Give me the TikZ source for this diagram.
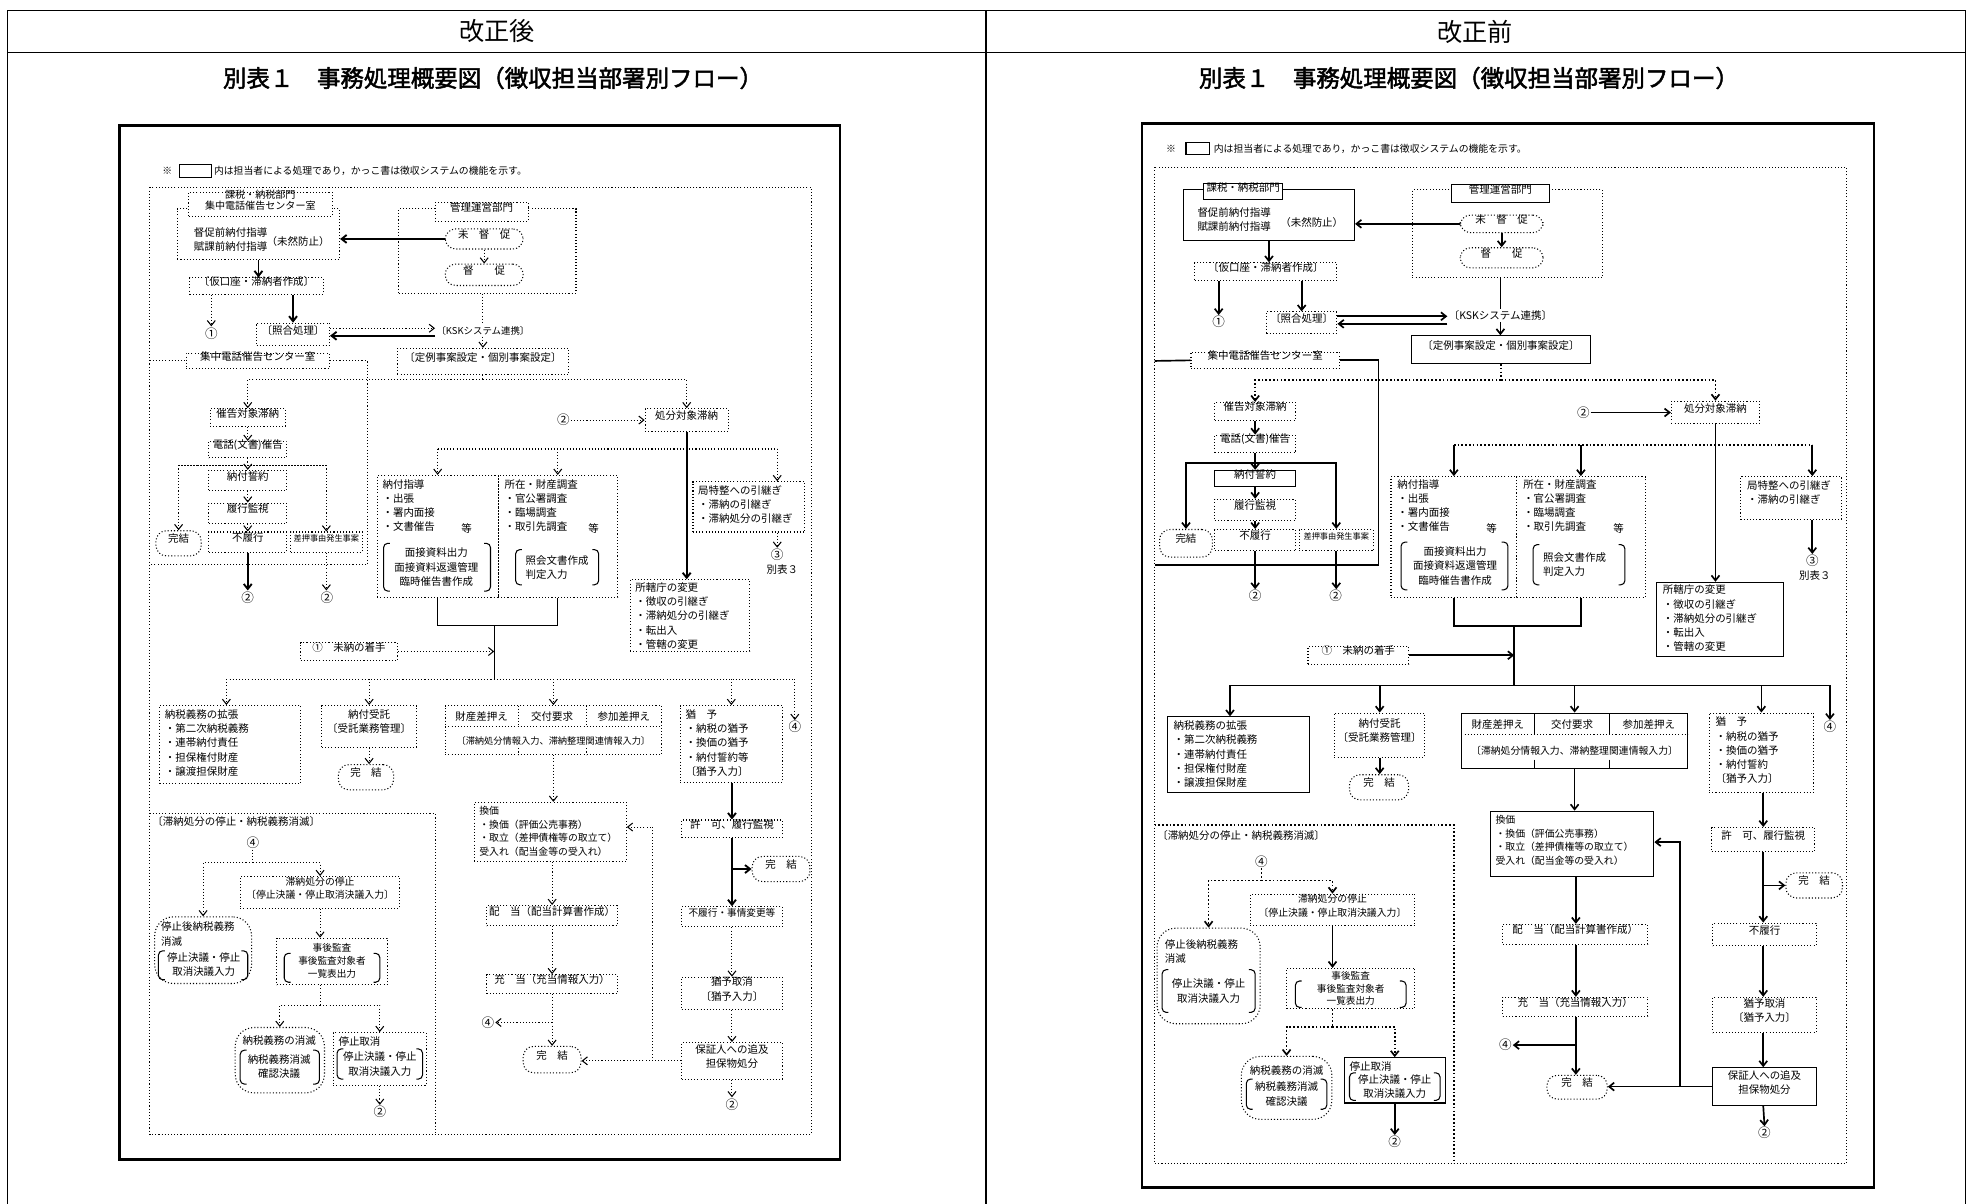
\documentclass[tikz,border=0pt]{standalone}
\usepackage{fontspec}
\setmainfont[AutoFakeBold=2]{Noto Sans CJK JP}
\usetikzlibrary{arrows.meta,fit,calc}
\newcommand\ctx{\fontsize{5}{6.8}\selectfont}
\newcommand\csm{\fontsize{4.6}{6.2}\selectfont}
\newcommand\cks{\fontsize{4.7}{6.5}\selectfont}
\newcommand\cjs{\fontsize{4.6}{6}\selectfont}
\newcommand\cxs{\fontsize{3.9}{5}\selectfont}
\newcommand\ccn{\fontsize{6}{6}\selectfont}
\newcommand\cnt{\fontsize{4.7}{5}\selectfont}
\newcommand\B[7][]{\node[bx,#1,fit={(#3,#4) (#5,#6)}] (#2) {#7};}
\newcommand\Brk[4]{%
 \draw[lnk,rounded corners=2pt] (#1+5,#2) -- (#1,#2) -- (#1,#4) -- (#1+5,#4);
 \draw[lnk,rounded corners=2pt] (#3-5,#2) -- (#3,#2) -- (#3,#4) -- (#3-5,#4);}
\begin{document}
\begin{tikzpicture}[x=0.6pt,y=-0.6pt,
 bx/.style={draw, line width=0.5pt, inner sep=0pt, align=center, font=\ctx},
 dl/.style={densely dotted},
 rbx/.style={rounded corners=5pt},
 lnk/.style={line width=0.5pt},
 hv/.style={line width=0.9pt},
 rln/.style={line width=0.8pt},
 arr/.style={lnk, -{Straight Barb[length=2.4pt,width=3.8pt]}},
 rar/.style={arr, line width=0.8pt},
 lt/.style={font=\ctx, inner sep=0.5pt, anchor=north west, align=left},
 lb/.style={font=\ctx, inner sep=0.5pt, align=center},
 cn/.style={font=\ccn, inner sep=0.3pt},
 frm/.style={line width=1.3pt}]
\useasboundingbox (0,0) rectangle (1568,957);
% ---------- table ----------
\draw[lnk] (6,960) -- (6,8) -- (1563,8) -- (1563,960);
\draw[lnk] (784,8) -- (784,960);
\draw[lnk] (6,42) -- (1563,42);
\node[font=\fontsize{12}{12}\selectfont] (hA) at (395,25) {改正後};
\node[font=\fontsize{12}{12}\selectfont] (hB) at (1173,25) {改正前};
\node[font=\fontsize{11.2}{12}\selectfont\bfseries] (tA) at (392,62) {別表１　事務処理概要図（徴収担当部署別フロー）};
\node[font=\fontsize{11.2}{12}\selectfont\bfseries] (tB) at (1168,62) {別表１　事務処理概要図（徴収担当部署別フロー）};

% ================= LEFT (改正後) =================
\draw[frm] (95,100) rectangle (668,922);
\node[lb,font=\cnt,anchor=west] (L-nm) at (128,136) {※};
\B{L-nb}{143}{131}{168}{141}{}
\node[lb,font=\cnt,anchor=west] (L-nt) at (169,136) {内は担当者による処理であり，かっこ書は徴収システムの機能を示す。};
\draw[lnk,dl] (119,149) rectangle (645,902);
\B[dl]{L-KN}{141}{166}{270}{206}{}
\B[dl,fill=white,font=\fontsize{4.8}{5.6}\selectfont]{L-KNh}{150}{153}{264}{172}{課税・納税部門\\集中電話催告センター室}
\node[lt] (L-KNt) at (153,180) {督促前納付指導\\賦課前納付指導};
\node[lb] (L-KNm) at (237,192) {（未然防止）};
\B[dl]{L-KA}{151}{221}{257}{234}{〔仮口座・滞納者作成〕}
\draw[arr,hv] (L-KN.south) -- (L-KN.south |- L-KA.north);
\node[cn] (L-C1) at (168,265) {①};
\draw[arr,dl] (L-C1 |- L-KA.south) -- (L-C1.north);
\B[dl]{L-SH}{204}{257}{262}{275}{〔照合処理〕}
\draw[arr,hv] (L-SH.north |- L-KA.south) -- (L-SH.north);
\node[lb,font=\fontsize{4.5}{5}\selectfont] (L-KSK) at (384,263) {〔KSKシステム連携〕};
\coordinate (L-u1) at ($(L-SH.east)+(0,-5)$);
\coordinate (L-u2) at ($(L-SH.east)+(0,1)$);
\draw[arr,dl] (L-u1) -- (L-u1 -| L-KSK.west);
\draw[arr,hv] (L-u2 -| L-KSK.west) -- (L-u2);
\B[dl]{L-KK}{317}{166}{458}{233}{}
\B[dl,fill=white]{L-KKh}{346}{161}{420}{176}{管理運営部門}
\B[rbx,dl]{L-MT}{354}{182}{416}{198}{未　督　促}
\B[rbx,dl]{L-TS}{354}{210}{416}{227}{督　　促}
\draw[arr,hv] (L-MT.west) -- (L-MT.west -| L-KN.east);
\draw[arr,dl] (L-MT.south) -- (L-TS.north);
\draw[lnk,dl] (L-KSK.north |- L-KK.south) -- (L-KSK.north);
\B[dl]{L-TR}{316}{277}{452}{298}{〔定例事案設定・個別事案設定〕}
\draw[arr,dl] (L-KSK.south) -- (L-KSK.south |- L-TR.north);
\coordinate (L-h1) at (384,302);
\draw[lnk,dl] (L-TR.south) -- (L-TR.south |- L-h1);
\B[dl]{L-SK}{167}{325}{227}{339}{催告対象滞納}
\B[dl]{L-ST}{513}{325}{579}{343}{処分対象滞納}
\draw[arr,dl] (L-TR.south |- L-h1) -| (L-SK.north);
\draw[arr,dl] (L-TR.south |- L-h1) -| (L-ST.north);
\node[cn] (L-C2c) at (448,334) {②};
\draw[arr,dl] (L-C2c.east) -- (L-C2c.east -| L-ST.west);
\B[dl,fill=white]{L-SCh}{148}{281}{262}{293}{集中電話催告センター室}
\draw[lnk,dl] (119,287) -- (L-SCh.west);
\draw[lnk,dl] (L-SCh.east) -| (292,449) -- (119,449);
\B[dl]{L-DK}{166}{351}{228}{364}{電話(文書)催告}
\draw[arr,dl] (L-SK.south) -- (L-DK.north);
\B[dl]{L-NS}{166}{374}{228}{390}{納付誓約}
\B[dl]{L-RK}{166}{400}{228}{416}{履行監視}
\B[dl]{L-FR}{166}{423}{228}{439}{不履行}
\B[rbx,dl]{L-KT}{124}{422}{160}{442}{完結}
\B[dl,font=\cxs]{L-SO}{231}{423}{288}{439}{差押事由発生事案}
\draw[arr,dl] (L-DK.south) -- (L-NS.north);
\draw[arr,dl] (L-NS.south) -- (L-RK.north);
\draw[arr,dl] (L-RK.south) -- (L-FR.north);
\coordinate (L-ut) at (200,370);
\draw[arr,dl] (L-SO.north |- L-ut) -- (L-KT.north |- L-ut) -- (L-KT.north);
\draw[arr,dl] (L-KT.north |- L-ut) -- (L-SO.north |- L-ut) -- (L-SO.north);
\node[cn] (L-C2a) at (197,475) {②};
\node[cn] (L-C2b) at (260,475) {②};
\draw[arr,hv] (L-FR.south) -- (L-FR.south |- L-C2a.north);
\draw[arr,dl] (L-SO.south) -- (L-SO.south |- L-C2b.north);
% middle
\B[dl]{L-NG}{300}{378}{396}{475}{}
\B[dl]{L-ZC}{396}{378}{491}{475}{}
\node[lt] (L-NGt) at (303,380) {納付指導\\・出張\\・署内面接\\・文書催告};
\node[lb] (L-NGe) at (371,420) {等};
\Brk{305}{432}{390}{470}
\node[lb] (L-NGb) at (347,451) {面接資料出力\\面接資料返還管理\\臨時催告書作成};
\node[lt] (L-ZCt) at (400,380) {所在・財産調査\\・官公署調査\\・臨場調査\\・取引先調査};
\node[lb] (L-ZCe) at (472,420) {等};
\Brk{410}{437}{476}{465}
\node[lb,align=left] (L-ZCb) at (443,451) {照会文書作成\\判定入力};
\B[dl]{L-KY}{551}{383}{640}{423}{}
\node[lt] (L-KYt) at (554,385) {局特整への引継ぎ\\・滞納の引継ぎ\\・滞納処分の引継ぎ};
\node[cn] (L-C3) at (618,441) {③};
\node[lb] (L-bh) at (622,453) {別表３};
\B[dl]{L-SY}{501}{461}{596}{518}{}
\node[lt] (L-SYt) at (504,462) {所轄庁の変更\\・徴収の引継ぎ\\・滞納処分の引継ぎ\\・転出入\\・管轄の変更};
\coordinate (L-h2) at (0,357);
\coordinate (L-kyx) at (618,0);
\draw[lnk,dl] (L-NG.north |- L-h2) -- (L-kyx |- L-h2);
\draw[arr,dl] (L-NG.north |- L-h2) -- (L-NG.north);
\draw[arr,dl] (L-ZC.north |- L-h2) -- (L-ZC.north);
\draw[arr,dl] (L-kyx |- L-h2) -- (L-kyx |- L-KY.north);
\draw[arr,dl] (L-kyx |- L-KY.south) -- (L-C3.north);
\draw[arr,hv] (L-ST.south) -- (L-ST.south |- L-SY.north);
\coordinate (L-j1) at (393,497);
\draw[lnk] (L-NG.south) |- (L-j1) -| (L-ZC.south);
\coordinate (L-h3) at (393,540);
\draw[lnk] (L-j1) -- (L-h3);
\B[dl]{L-MC}{239}{511}{316}{525}{①　未納の着手}
\draw[arr,dl] (L-MC.east) -- (L-MC.east -| L-j1);
% row
\B[dl]{L-GK}{127}{561}{239}{623}{}
\node[lt] (L-GKt) at (130,563) {納税義務の拡張\\・第二次納税義務\\・連帯納付責任\\・担保権付財産\\・譲渡担保財産};
\B[dl,align=left]{L-NJ}{256}{561}{331}{594}{納付受託\\〔受託業務管理〕}
\B[rbx,dl]{L-KT2}{269}{608}{313}{628}{完　結}
\draw[arr,dl] (L-NJ.south) -- (L-NJ.south |- L-KT2.north);
\B[dl]{L-ZS}{354}{561}{526}{600}{}
\draw[lnk,dl] (354,578) -- (526,578);
\draw[lnk,dl] (412,561) -- (412,578) (466,561) -- (466,578) (412,595) -- (412,600) (466,595) -- (466,600);
\node[lb] (L-zs1) at (383,570) {財産差押え};
\node[lb] (L-zs2) at (439,570) {交付要求};
\node[lb] (L-zs3) at (496,570) {参加差押え};
\node[lb,font=\fontsize{4.4}{5}\selectfont] (L-zs4) at (440,589) {〔滞納処分情報入力、滞納整理関連情報入力〕};
\B[dl]{L-YU}{541}{561}{622}{622}{}
\node[lt] (L-YUt) at (544,563) {猶　予\\・納税の猶予\\・換価の猶予\\・納付誓約等\\〔猶予入力〕};
\node[cn] (L-C4a) at (632,578) {④};
\coordinate (L-gkx) at (180,0);
\draw[lnk,dl] (L-gkx |- L-h3) -- (L-C4a |- L-h3);
\draw[arr,dl] (L-gkx |- L-h3) -- (L-gkx |- L-GK.north);
\draw[arr,dl] (L-NJ.north |- L-h3) -- (L-NJ.north);
\draw[arr,dl] (L-ZS.north |- L-h3) -- (L-ZS.north);
\draw[arr,dl] (L-YU.north |- L-h3) -- (L-YU.north);
\draw[arr,dl] (L-C4a |- L-h3) -- (L-C4a.north);
% lower middle
\B[dl]{L-KV}{377}{638}{498}{685}{}
\node[lt,font=\cks] (L-KVt) at (380,640) {換価\\・換価（評価公売事務）\\・取立（差押債権等の取立て）\\受入れ（配当金等の受入れ）};
\draw[arr,dl] (L-ZS.south) -- (L-ZS.south |- L-KV.north);
\B[dl]{L-HT}{387}{720}{491}{736}{配　当（配当計算書作成）}
\B[dl]{L-JT}{387}{775}{491}{790}{充　当（充当情報入力）}
\B[rbx,dl]{L-KT3}{416}{832}{462}{853}{完　結}
\coordinate (L-vx) at (439,0);
\draw[arr,dl] (L-vx |- L-KV.south) -- (L-vx |- L-HT.north);
\draw[arr,dl] (L-vx |- L-HT.south) -- (L-vx |- L-JT.north);
\draw[arr,dl] (L-vx |- L-JT.south) -- (L-vx |- L-KT3.north);
\node[cn] (L-C4b) at (388,813) {④};
\draw[arr,dl] (L-vx |- L-C4b) -- (L-C4b.east);
% right column
\B[dl]{L-KY2}{542}{652}{622}{666}{許　可、履行監視}
\B[rbx,dl]{L-KT4}{598}{681}{644}{701}{完　結}
\B[dl,font=\csm]{L-FH}{542}{721}{622}{737}{不履行・事情変更等}
\B[dl,align=left]{L-YT}{542}{777}{622}{803}{猶予取消\\〔猶予入力〕}
\B[dl]{L-HS}{542}{829}{622}{858}{保証人への追及\\担保物処分}
\node[cn] (L-C2d) at (582,878) {②};
\coordinate (L-yx) at (582,0);
\draw[arr,hv] (L-yx |- L-YU.south) -- (L-yx |- L-KY2.north);
\draw[arr,hv] (L-yx |- L-KY2.south) -- (L-yx |- L-FH.north);
\draw[arr,hv] (L-yx |- L-KT4.west) -- (L-KT4.west);
\draw[arr,dl] (L-yx |- L-FH.south) -- (L-yx |- L-YT.north);
\draw[arr,dl] (L-yx |- L-YT.south) -- (L-yx |- L-HS.north);
\draw[arr,dl] (L-yx |- L-HS.south) -- (L-C2d.north);
\draw[arr,dl] (L-HS.west) -- (L-HS.west -| L-KT3.east);
\coordinate (L-rb) at (519,0);
\coordinate (L-kv) at ($(L-KV.north east)+(0,20)$);
\draw[arr,dl] (L-rb |- L-HS.west) -- (L-rb |- L-kv) -- (L-kv);
% stop section
\draw[lnk,dl] (119,647) -- (346,647) -- (346,902);
\node[lb,anchor=west] (L-TT) at (120,653) {〔滞納処分の停止・納税義務消滅〕};
\node[cn] (L-C4c) at (201,670) {④};
\coordinate (L-s1) at (201,686);
\draw[lnk,dl] (L-C4c.south) -- (L-s1);
\B[dl,align=left,font=\cks]{L-TS2}{191}{697}{318}{722}{滞納処分の停止\\〔停止決議・停止取消決議入力〕}
\B[rbx,dl,rounded corners=9pt]{L-TO}{123}{729}{200}{782}{}
\draw[arr,dl] (L-s1) -| (L-TO.north);
\draw[arr,dl] (L-s1) -| (L-TS2.north);
\node[lt] (L-TOt) at (127,732) {停止後納税義務\\消滅};
\Brk{126}{756}{197}{779}
\node[lb] (L-TOb) at (162,767) {停止決議・停止\\取消決議入力};
\B[dl]{L-JK}{220}{746}{308}{783}{}
\node[lb,font=\cjs] (L-JKt) at (264,764) {事後監査\\事後監査対象者\\一覧表出力};
\Brk{226}{758}{302}{781}
\draw[arr,dl] (L-TS2.south) -- (L-TS2.south |- L-JK.north);
\coordinate (L-s2) at ($(L-TS2.south)+(0,77)$);
\draw[lnk,dl] (L-s2 |- L-JK.south) -- (L-s2);
\B[rbx,dl,rounded corners=9pt]{L-NS2}{187}{817}{258}{869}{}
\B[dl]{L-TK}{265}{821}{339}{863}{}
\draw[arr,dl] (L-s2) -| (L-NS2.north);
\draw[arr,dl] (L-s2) -| (L-TK.north);
\node[lb] (L-NS2t) at (222,827) {納税義務の消滅};
\Brk{191}{835}{254}{862}
\node[lb] (L-NS2b) at (222,848) {納税義務消滅\\確認決議};
\node[lt] (L-TKt) at (268,823) {停止取消};
\Brk{268}{834}{336}{858}
\node[lb] (L-TKb) at (302,846) {停止決議・停止\\取消決議入力};
\node[cn] (L-C2e) at (302,884) {②};
\draw[arr,dl] (L-TK.south) -- (L-C2e.north);

% ================= RIGHT (改正前) =================
\draw[frm] (908,98) rectangle (1490,944);
\node[lb,font=\cnt,anchor=west] (R-nm) at (926,118) {※};
\B{R-nb}{943}{113}{962}{123}{}
\node[lb,font=\cnt,anchor=west] (R-nt) at (964,118) {内は担当者による処理であり，かっこ書は徴収システムの機能を示す。};
\draw[lnk,dl] (918,133) rectangle (1468,925);
\B{R-KN}{941}{151}{1077}{191}{}
\B[fill=white]{R-KNh}{957}{146}{1020}{159}{課税・納税部門}
\node[lt] (R-KNt) at (951,164) {督促前納付指導\\賦課前納付指導};
\node[lb] (R-KNm) at (1043,177) {（未然防止）};
\B[dl]{R-KA}{950}{209}{1063}{223}{〔仮口座・滞納者作成〕}
\draw[rar] (R-KN.south) -- (R-KN.south |- R-KA.north);
\node[cn] (R-C1) at (969,256) {①};
\draw[rar] (R-C1 |- R-KA.south) -- (R-C1.north);
\B[dl]{R-SH}{1007}{248}{1063}{265}{〔照合処理〕}
\draw[rar] (R-SH.north |- R-KA.south) -- (R-SH.north);
\node[lb] (R-KSK) at (1193,251) {〔KSKシステム連携〕};
\coordinate (R-u1) at ($(R-SH.east)+(0,-5)$);
\coordinate (R-u2) at ($(R-SH.east)+(0,1)$);
\draw[rar] (R-u1) -- (R-u1 -| R-KSK.west);
\draw[rar] (R-u2 -| R-KSK.west) -- (R-u2);
\B[dl]{R-KK}{1123}{151}{1274}{221}{}
\B[fill=white]{R-KKh}{1154}{147}{1232}{161}{管理運営部門}
\B[rbx,dl]{R-MT}{1161}{171}{1227}{185}{未　督　促}
\B[rbx,dl]{R-TS}{1161}{197}{1227}{213}{督　　促}
\draw[rar] (R-MT.west) -- (R-MT.west -| R-KN.east);
\draw[rar] (R-MT.south) -- (R-TS.north);
\draw[rln] (R-KSK.north |- R-KK.south) -- (R-KSK.north);
\B{R-TR}{1122}{267}{1265}{289}{〔定例事案設定・個別事案設定〕}
\draw[rar] (R-KSK.south) -- (R-KSK.south |- R-TR.north);
\coordinate (R-h1) at (1193,302);
\draw[rln,dl] (R-TR.south) -- (R-TR.south |- R-h1);
\B[dl]{R-SK}{966}{320}{1030}{334}{催告対象滞納}
\B[dl]{R-ST}{1329}{319}{1399}{337}{処分対象滞納}
\draw[rar,dl] (R-TR.south |- R-h1) -| (R-SK.north);
\draw[rar,dl] (R-TR.south |- R-h1) -| (R-ST.north);
\node[cn] (R-C2c) at (1259,328) {②};
\draw[rar] (R-C2c.east) -- (R-C2c.east -| R-ST.west);
\B[dl,fill=white]{R-SCh}{947}{280}{1065}{293}{集中電話催告センター室}
\draw[rln] (918,287) -- (R-SCh.west);
\draw[rln] (R-SCh.east) -| (1096,449) -- (918,449);
\B[dl]{R-DK}{966}{346}{1030}{360}{電話(文書)催告}
\draw[rar] (R-SK.south) -- (R-DK.north);
\B{R-NS}{966}{374}{1030}{387}{納付誓約}
\B[dl]{R-RK}{966}{397}{1030}{414}{履行監視}
\B[dl]{R-FR}{966}{421}{1030}{438}{不履行}
\B[rbx,dl]{R-KT}{922}{421}{964}{443}{完結}
\B[dl,font=\cxs]{R-SO}{1033}{421}{1092}{438}{差押事由発生事案}
\draw[rar] (R-DK.south) -- (R-NS.north);
\draw[rar] (R-NS.south) -- (R-RK.north);
\draw[rar] (R-RK.south) -- (R-FR.north);
\coordinate (R-ut) at (1000,368);
\draw[rar] (R-SO.north |- R-ut) -- (R-KT.north |- R-ut) -- (R-KT.north);
\draw[rar] (R-KT.north |- R-ut) -- (R-SO.north |- R-ut) -- (R-SO.north);
\node[cn] (R-C2a) at (998,474) {②};
\node[cn] (R-C2b) at (1062,474) {②};
\draw[rar] (R-FR.south) -- (R-FR.south |- R-C2a.north);
\draw[rar] (R-SO.south) -- (R-SO.south |- R-C2b.north);
% middle
\B[dl]{R-NG}{1106}{379}{1206}{475}{}
\B[dl]{R-ZC}{1206}{379}{1308}{475}{}
\node[lt] (R-NGt) at (1110,380) {納付指導\\・出張\\・署内面接\\・文書催告};
\node[lb] (R-NGe) at (1186,420) {等};
\Brk{1114}{431}{1199}{469}
\node[lb] (R-NGb) at (1157,450) {面接資料出力\\面接資料返還管理\\臨時催告書作成};
\node[lt] (R-ZCt) at (1210,380) {所在・財産調査\\・官公署調査\\・臨場調査\\・取引先調査};
\node[lb] (R-ZCe) at (1287,420) {等};
\Brk{1219}{433}{1292}{465}
\node[lb,align=left] (R-ZCb) at (1252,449) {照会文書作成\\判定入力};
\B[dl]{R-KY}{1384}{379}{1464}{413}{}
\node[lt] (R-KYt) at (1388,381) {局特整への引継ぎ\\・滞納の引継ぎ};
\node[cn] (R-C3) at (1441,446) {③};
\node[lb] (R-bh) at (1443,458) {別表３};
\B{R-SY}{1317}{463}{1418}{522}{}
\node[lt] (R-SYt) at (1321,464) {所轄庁の変更\\・徴収の引継ぎ\\・滞納処分の引継ぎ\\・転出入\\・管轄の変更};
\coordinate (R-h2) at (0,354);
\coordinate (R-kyx) at (1441,0);
\draw[rln,dl] (R-NG.north |- R-h2) -- (R-kyx |- R-h2);
\draw[rar] (R-NG.north |- R-h2) -- (R-NG.north);
\draw[rar] (R-ZC.north |- R-h2) -- (R-ZC.north);
\draw[rar] (R-kyx |- R-h2) -- (R-kyx |- R-KY.north);
\draw[rar] (R-kyx |- R-KY.south) -- (R-C3.north);
\draw[rar] (R-ST.south) -- (R-ST.south |- R-SY.north);
\coordinate (R-j1) at (1204,498);
\draw[rln] (R-NG.south) |- (R-j1) -| (R-ZC.south);
\coordinate (R-h3) at (1204,545);
\draw[rln] (R-j1) -- (R-h3);
\B[dl]{R-MC}{1040}{514}{1120}{528}{①　未納の着手}
\draw[rar] (R-MC.east) -- (R-MC.east -| R-j1);
% row
\B{R-GK}{928}{570}{1041}{630}{}
\node[lt] (R-GKt) at (932,572) {納税義務の拡張\\・第二次納税義務\\・連帯納付責任\\・担保権付財産\\・譲渡担保財産};
\B[dl,align=left]{R-NJ}{1061}{567}{1133}{602}{納付受託\\〔受託業務管理〕}
\B[rbx,dl]{R-KT2}{1073}{616}{1120}{636}{完　結}
\draw[rar] (R-NJ.south) -- (R-NJ.south |- R-KT2.north);
\B{R-ZS}{1162}{567}{1342}{611}{}
\draw[lnk,dl] (1162,584) -- (1342,584);
\draw[lnk] (1220,567) -- (1220,584) (1280,567) -- (1280,584) (1220,604) -- (1220,611) (1280,604) -- (1280,611);
\node[lb] (R-zs1) at (1191,576) {財産差押え};
\node[lb] (R-zs2) at (1250,576) {交付要求};
\node[lb] (R-zs3) at (1311,576) {参加差押え};
\node[lb,font=\cks] (R-zs4) at (1252,597) {〔滞納処分情報入力、滞納整理関連情報入力〕};
\B[dl]{R-YU}{1359}{567}{1442}{630}{}
\node[lt] (R-YUt) at (1363,569) {猶　予\\・納税の猶予\\・換価の猶予\\・納付誓約\\〔猶予入力〕};
\node[cn] (R-C4a) at (1455,578) {④};
\coordinate (R-gkx) at (978,0);
\draw[rln] (R-gkx |- R-h3) -- (R-C4a |- R-h3);
\draw[rar] (R-gkx |- R-h3) -- (R-gkx |- R-GK.north);
\draw[rar] (R-NJ.north |- R-h3) -- (R-NJ.north);
\draw[rar] (R-ZS.north |- R-h3) -- (R-ZS.north);
\draw[rar] (R-YU.north |- R-h3) -- (R-YU.north);
\draw[rar] (R-C4a |- R-h3) -- (R-C4a.north);
% lower middle
\B{R-KV}{1185}{645}{1315}{697}{}
\node[lt,font=\cks] (R-KVt) at (1188,647) {換価\\・換価（評価公売事務）\\・取立（差押債権等の取立て）\\受入れ（配当金等の受入れ）};
\draw[rar] (R-ZS.south) -- (R-ZS.south |- R-KV.north);
\B[dl]{R-HT}{1195}{735}{1310}{751}{配　当（配当計算書作成）}
\B[dl]{R-JT}{1195}{793}{1310}{808}{充　当（充当情報入力）}
\B[rbx,dl]{R-KT3}{1230}{855}{1278}{874}{完　結}
\coordinate (R-vx) at (1253,0);
\draw[rar] (R-vx |- R-KV.south) -- (R-vx |- R-HT.north);
\draw[rar] (R-vx |- R-HT.south) -- (R-vx |- R-JT.north);
\draw[rar] (R-vx |- R-JT.south) -- (R-vx |- R-KT3.north);
\node[cn] (R-C4b) at (1197,831) {④};
\draw[rar] (R-vx |- R-C4b) -- (R-C4b.east);
% right column
\B[dl]{R-KY2}{1361}{658}{1443}{677}{許　可、履行監視}
\B[rbx,dl]{R-KT4}{1420}{694}{1465}{714}{完　結}
\B[dl]{R-FR2}{1362}{734}{1444}{752}{不履行}
\B[dl,align=left]{R-YT}{1362}{793}{1444}{821}{猶予取消\\〔猶予入力〕}
\B{R-HS}{1362}{849}{1444}{879}{保証人への追及\\担保物処分}
\node[cn] (R-C2d) at (1403,901) {②};
\coordinate (R-yx) at (1402,0);
\draw[rar] (R-yx |- R-YU.south) -- (R-yx |- R-KY2.north);
\draw[rar] (R-yx |- R-KY2.south) -- (R-yx |- R-FR2.north);
\draw[rar] (R-yx |- R-KT4.west) -- (R-KT4.west);
\draw[rar] (R-yx |- R-FR2.south) -- (R-yx |- R-YT.north);
\draw[rar] (R-yx |- R-YT.south) -- (R-yx |- R-HS.north);
\draw[rar] (R-yx |- R-HS.south) -- (R-C2d.north);
\draw[rar] (R-HS.west) -- (R-HS.west -| R-KT3.east);
\coordinate (R-rb) at (1336,0);
\coordinate (R-kv) at ($(R-KV.north east)+(0,25)$);
\draw[rar] (R-rb |- R-HS.west) -- (R-rb |- R-kv) -- (R-kv);
% stop section
\draw[rln,dl] (918,656) -- (1156,656) -- (1156,925);
\node[lb,anchor=west] (R-TT) at (919,664) {〔滞納処分の停止・納税義務消滅〕};
\node[cn] (R-C4c) at (1003,685) {④};
\coordinate (R-s1) at (1003,700);
\draw[rln,dl] (R-C4c.south) -- (R-s1);
\B[dl,align=left,font=\cks]{R-TS2}{994}{711}{1125}{736}{滞納処分の停止\\〔停止決議・停止取消決議入力〕}
\B[rbx,dl,rounded corners=9pt]{R-TO}{920}{738}{1002}{814}{}
\draw[rar,dl] (R-s1) -| (R-TO.north);
\draw[rar,dl] (R-s1) -| (R-TS2.north);
\node[lt] (R-TOt) at (925,746) {停止後納税義務\\消滅};
\Brk{924}{771}{998}{805}
\node[lb] (R-TOb) at (961,788) {停止決議・停止\\取消決議入力};
\B[dl]{R-JK}{1023}{770}{1125}{802}{}
\node[lb,font=\cjs] (R-JKt) at (1074,786) {事後監査\\事後監査対象者\\一覧表出力};
\Brk{1030}{780}{1118}{801}
\draw[rar] (R-TS2.south) -- (R-TS2.south |- R-JK.north);
\coordinate (R-s2) at ($(R-TS2.south)+(0,80)$);
\draw[rln,dl] (R-s2 |- R-JK.south) -- (R-s2);
\B[rbx,dl,rounded corners=9pt]{R-NS2}{987}{840}{1059}{890}{}
\B{R-TK}{1069}{841}{1149}{877}{}
\draw[rar,dl] (R-s2) -| (R-NS2.north);
\draw[rar,dl] (R-s2) -| (R-TK.north);
\node[lb] (R-NS2t) at (1023,851) {納税義務の消滅};
\Brk{991}{858}{1055}{882}
\node[lb] (R-NS2b) at (1023,870) {納税義務消滅\\確認決議};
\node[lt] (R-TKt) at (1072,843) {停止取消};
\Brk{1073}{853}{1145}{875}
\node[lb] (R-TKb) at (1109,864) {停止決議・停止\\取消決議入力};
\node[cn] (R-C2e) at (1109,908) {②};
\draw[rar] (R-TK.south) -- (R-C2e.north);
\end{tikzpicture}
\end{document}
